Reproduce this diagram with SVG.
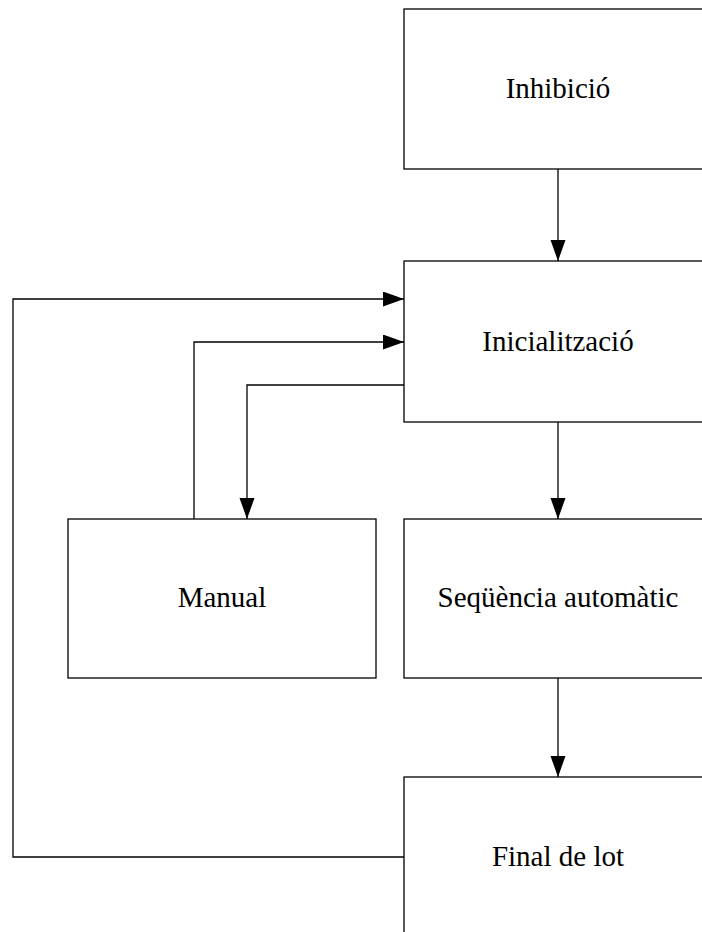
<svg xmlns="http://www.w3.org/2000/svg" width="702" height="932" viewBox="0 0 702 932">
  <style>
    .box { fill: #ffffff; stroke: #000000; stroke-width: 1.3; }
    .lbl { font-family: "Liberation Serif", "Times New Roman", serif; font-size: 29px; fill: #000000; text-anchor: middle; }
    .wire { fill: none; stroke: #000000; stroke-width: 1.3; }
  </style>
  <defs>
    <marker id="arrow" markerUnits="userSpaceOnUse" markerWidth="22" markerHeight="16" refX="21" refY="7.5" orient="auto">
      <path d="M0,0 L21,7.5 L0,15 Z" fill="#000000"/>
    </marker>
  </defs>
  <rect width="702" height="932" fill="#ffffff"/>

  <g id="connectors">
    <!-- Inhibició -> Inicialització -->
    <path class="wire" d="M558,169 L558,261" marker-end="url(#arrow)"/>
    <!-- Inicialització -> Seqüència automàtic -->
    <path class="wire" d="M558,422 L558,519" marker-end="url(#arrow)"/>
    <!-- Seqüència automàtic -> Final de lot -->
    <path class="wire" d="M558,678 L558,777" marker-end="url(#arrow)"/>
    <!-- Final de lot -> Inicialització (return loop) -->
    <path class="wire" d="M404,857 L13,857 L13,299 L404,299" marker-end="url(#arrow)"/>
    <!-- Manual -> Inicialització -->
    <path class="wire" d="M194,519 L194,342 L404,342" marker-end="url(#arrow)"/>
    <!-- Inicialització -> Manual -->
    <path class="wire" d="M404,385 L247,385 L247,519" marker-end="url(#arrow)"/>
  </g>

  <g id="inhibicio">
    <rect class="box" x="404" y="9" width="308" height="160"/>
    <text class="lbl" x="558" y="98">Inhibició</text>
  </g>
  <g id="inicialitzacio">
    <rect class="box" x="404" y="261" width="308" height="161"/>
    <text class="lbl" x="558" y="351">Inicialització</text>
  </g>
  <g id="manual">
    <rect class="box" x="68" y="519" width="308" height="159"/>
    <text class="lbl" x="222" y="607">Manual</text>
  </g>
  <g id="sequencia">
    <rect class="box" x="404" y="519" width="308" height="159"/>
    <text class="lbl" x="558" y="607">Seqüència automàtic</text>
  </g>
  <g id="final">
    <rect class="box" x="404" y="777" width="308" height="160"/>
    <text class="lbl" x="558" y="866">Final de lot</text>
  </g>
</svg>
